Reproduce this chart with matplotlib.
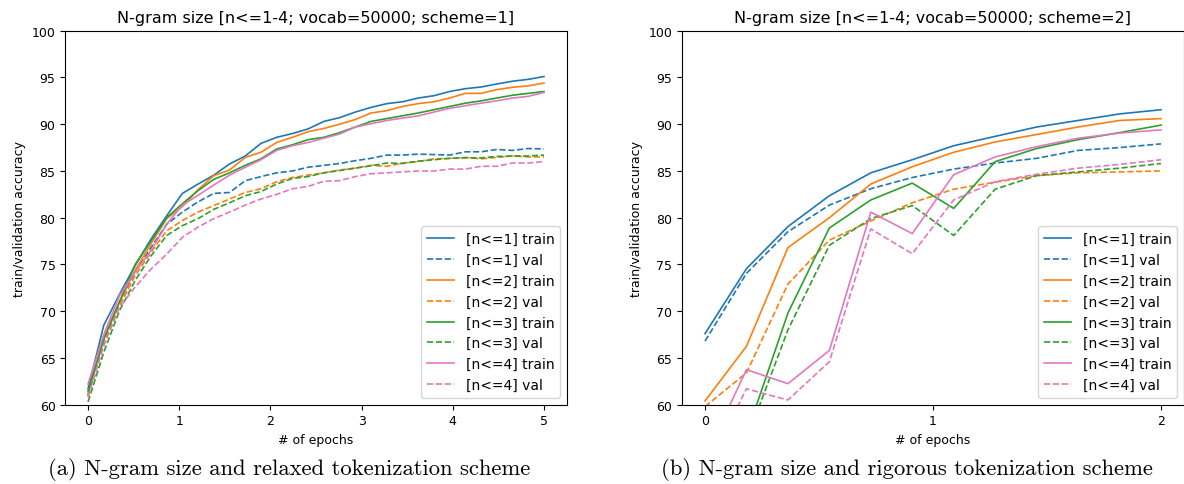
import matplotlib
matplotlib.use("Agg")
import matplotlib.pyplot as plt
import numpy as np

# left panel: 30 checkpoints over 5 epochs
epochs_a = np.linspace(0, 5, 30)
train1_a = [61.7, 68.5, 71.8, 74.9, 77.7, 80.2, 82.6, 83.6, 84.55, 85.75,
            86.6, 87.95, 88.6, 89.0, 89.5, 90.3, 90.7, 91.3, 91.8, 92.2,
            92.4, 92.8, 93.05, 93.5, 93.8, 93.98, 94.3, 94.6, 94.8, 95.1]
val1_a = [61.0, 67.0, 70.95, 74.2, 76.8, 79.3, 80.6, 81.7, 82.6, 82.7,
          83.96, 84.4, 84.8, 85.0, 85.4, 85.6, 85.8, 86.1, 86.35, 86.7,
          86.7, 86.8, 86.75, 86.7, 87.05, 87.05, 87.3, 87.2, 87.4, 87.35]
train2_a = [61.1, 67.3, 71.0, 74.4, 77.2, 79.9, 81.2, 83.0, 84.5, 85.1,
            86.45, 87.0, 88.05, 88.6, 89.2, 89.55, 90.0, 90.5, 91.2, 91.45,
            91.9, 92.2, 92.4, 92.8, 93.3, 93.3, 93.7, 93.95, 94.1, 94.4]
val2_a = [60.9, 66.6, 70.6, 73.8, 76.3, 78.6, 79.7, 80.6, 81.3, 82.0,
          82.7, 83.1, 83.85, 84.3, 84.55, 84.8, 85.1, 85.3, 85.6, 85.5,
          85.85, 86.0, 86.3, 86.35, 86.45, 86.3, 86.45, 86.6, 86.5, 86.5]
train3_a = [61.4, 67.0, 71.0, 75.0, 77.5, 80.0, 81.5, 82.9, 84.1, 84.8,
            85.6, 86.3, 87.35, 87.8, 88.35, 88.6, 89.1, 89.7, 90.3, 90.6,
            90.9, 91.2, 91.55, 91.9, 92.25, 92.5, 92.8, 93.1, 93.3, 93.5]
val3_a = [60.3, 65.6, 70.05, 73.3, 75.9, 78.1, 79.15, 79.9, 80.9, 81.6,
          82.35, 82.8, 83.6, 84.2, 84.4, 84.8, 85.05, 85.3, 85.55, 85.85,
          85.8, 86.05, 86.2, 86.35, 86.4, 86.4, 86.55, 86.6, 86.6, 86.7]
train4_a = [62.2, 67.5, 71.65, 74.2, 76.5, 79.3, 81.35, 82.4, 83.5, 84.55,
            85.4, 86.2, 87.2, 87.7, 88.05, 88.5, 88.95, 89.7, 90.05, 90.4,
            90.65, 90.9, 91.3, 91.7, 91.98, 92.25, 92.5, 92.8, 92.98, 93.4]
val4_a = [60.8, 66.3, 70.4, 72.6, 74.5, 76.1, 77.9, 79.0, 79.9, 80.6,
          81.35, 82.0, 82.5, 83.1, 83.35, 83.9, 83.96, 84.4, 84.7, 84.8,
          84.9, 85.0, 85.0, 85.2, 85.2, 85.5, 85.5, 85.85, 85.85, 86.0]

# right panel: 12 checkpoints over 2 epochs
epochs_b = np.linspace(0, 2, 12)
train1_b = [67.6, 74.55, 79.05, 82.35, 84.8, 86.2, 87.7, 88.7, 89.7, 90.4, 91.1, 91.55]
val1_b = [66.8, 74.05, 78.5, 81.35, 83.1, 84.3, 85.2, 85.85, 86.35, 87.2, 87.5, 87.9]
train2_b = [60.4, 66.25, 76.8, 80.0, 83.6, 85.45, 87.0, 88.1, 88.9, 89.7, 90.4, 90.6]
val2_b = [59.8, 63.4, 72.9, 77.6, 79.65, 81.6, 83.05, 83.8, 84.5, 84.8, 84.9, 85.0]
train3_b = [50.5, 56.8, 69.8, 78.9, 81.9, 83.7, 81.0, 86.0, 87.4, 88.35, 89.1, 89.9]
val3_b = [49.5, 56.2, 68.0, 77.05, 79.9, 81.3, 78.1, 83.05, 84.5, 84.9, 85.3, 85.8]
train4_b = [54.3, 63.75, 62.25, 65.8, 80.6, 78.3, 84.6, 86.5, 87.6, 88.5, 89.05, 89.4]
val4_b = [53.0, 61.7, 60.5, 64.6, 78.8, 76.15, 81.9, 83.85, 84.65, 85.3, 85.7, 86.2]

labels = ["[n<=1]", "[n<=2]", "[n<=3]", "[n<=4]"]
colors = ["#1f77b4", "#ff7f0e", "#2ca02c", "#e377c2"]

fig = plt.figure(figsize=(11.84, 4.85), dpi=100)
ax1 = fig.add_axes([0.0551, 0.1635, 0.4236, 0.7711])
ax2 = fig.add_axes([0.5762, 0.1635, 0.4236, 0.7711])

panels = [
    (ax1, epochs_a, [(train1_a, val1_a), (train2_a, val2_a), (train3_a, val3_a), (train4_a, val4_a)], 1),
    (ax2, epochs_b, [(train1_b, val1_b), (train2_b, val2_b), (train3_b, val3_b), (train4_b, val4_b)], 2),
]

for ax, x, series, scheme in panels:
    for (tr, va), lab, c in zip(series, labels, colors):
        ax.plot(x, tr, color=c, lw=1.2, label=f"{lab} train")
        ax.plot(x, va, color=c, lw=1.2, ls="--", label=f"{lab} val")
    ax.set_ylim(60, 100)
    ax.set_yticks(range(60, 101, 5))
    ax.set_title(f"N-gram size [n<=1-4; vocab=50000; scheme={scheme}]", fontsize=11.5)
    ax.set_xlabel("# of epochs", fontsize=9)
    ax.set_ylabel("train/validation accuracy", fontsize=9)
    ax.tick_params(labelsize=9)
    ax.legend(loc="lower right", fontsize=10)

ax1.set_xticks(range(0, 6))
ax2.set_xticks([0, 1, 2])

fig.text(0.244, 0.031, "(a) N-gram size and relaxed tokenization scheme",
         ha="center", va="center", fontsize=16.3, family="cmr10")
fig.text(0.766, 0.031, "(b) N-gram size and rigorous tokenization scheme",
         ha="center", va="center", fontsize=16.3, family="cmr10")

plt.savefig("out.png", dpi=100)
